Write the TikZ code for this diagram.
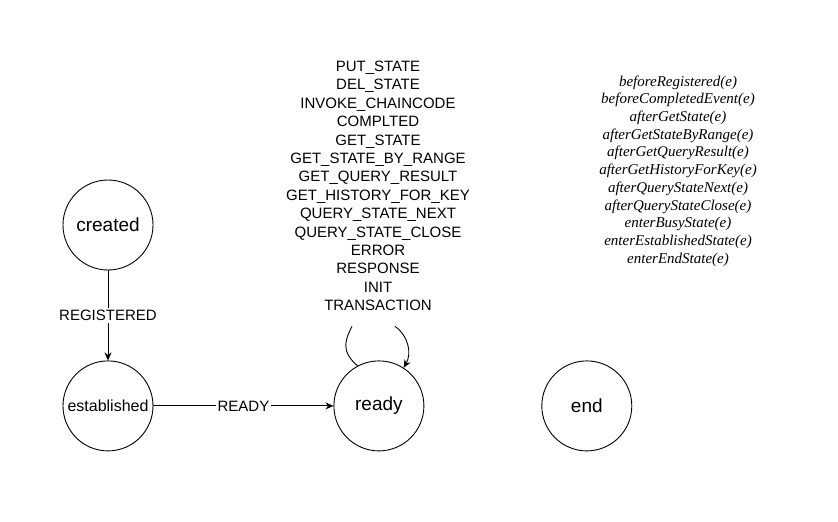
\documentclass[tikz,border=0pt]{standalone}
\usepackage{fontspec}
\setmainfont{Liberation Sans}
\newfontfamily\cbfont{Liberation Serif}
\usetikzlibrary{
    arrows.meta,
    positioning
}

\begin{document}
\begin{tikzpicture}[x=1pt, y=-1pt,
      line width=0.9pt,
      state/.style={draw, circle, minimum size=90pt, inner sep=0pt, font=\fontsize{19}{22}\selectfont},
      lbl/.style={fill=white, inner sep=2pt, font=\fontsize{15}{18}\selectfont},
      evts/.style={align=center, inner sep=0pt, font=\fontsize{15}{18.4}\selectfont},
      cbs/.style={align=center, inner sep=0pt, font=\cbfont\itshape\fontsize{15}{17.7}\selectfont},
      arr/.style={-{Stealth[length=8pt, width=7pt]}}]
    \useasboundingbox (0,0) rectangle (838,522);
    \node[state] (created) at (108,225) {created};
    \node[state, below=90pt of created, font=\fontsize{16}{19}\selectfont] (established) {established};
    \node[state, right=180pt of established] (ready) {ready};
    \node[state, right=117pt of ready] (end) {end};
    \node[evts] (events) at (378,186) {PUT\_STATE\\DEL\_STATE\\INVOKE\_CHAINCODE\\COMPLTED\\GET\_STATE\\GET\_STATE\_BY\_RANGE\\GET\_QUERY\_RESULT\\GET\_HISTORY\_FOR\_KEY\\QUERY\_STATE\_NEXT\\QUERY\_STATE\_CLOSE\\ERROR\\RESPONSE\\INIT\\TRANSACTION};
    \node[cbs] (callbacks) at (678,171) {beforeRegistered(e)\\beforeCompletedEvent(e)\\afterGetState(e)\\afterGetStateByRange(e)\\afterGetQueryResult(e)\\afterGetHistoryForKey(e)\\afterQueryStateNext(e)\\afterQueryStateClose(e)\\enterBusyState(e)\\enterEstablishedState(e)\\enterEndState(e)};
    \draw[arr] (created) -- node[lbl] {REGISTERED} (established);
    \draw[arr] (established) -- node[lbl] {READY} (ready);
    \draw (ready.118) .. controls +(-18,-15) and +(-6,12) .. ([xshift=-26pt, yshift=-15pt]events.south);
    \draw[arr] ([xshift=17pt, yshift=-15pt]events.south) .. controls +(14,10) and +(8,-14) .. (ready.57);
  \end{tikzpicture}
\end{document}
